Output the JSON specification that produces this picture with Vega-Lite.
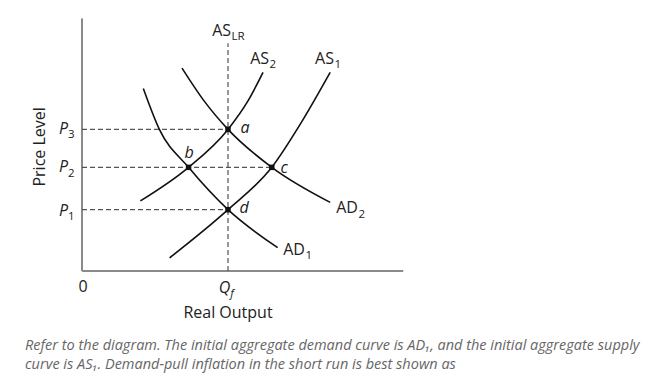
{
  "$schema": "https://vega.github.io/schema/vega-lite/v6.json",
  "width": 653,
  "height": 389,
  "autosize": {"type": "fit", "contains": "padding"},
  "padding": 0,
  "background": "white",
  "config": {"view": {"stroke": null}, "text": {"font": "Open Sans"}},
  "datasets": {
    "curves": [
      {"curve": "AD1", "x": 42, "y": 125}, {"curve": "AD1", "x": 53, "y": 97}, {"curve": "AD1", "x": 73, "y": 71}, {"curve": "AD1", "x": 100, "y": 42}, {"curve": "AD1", "x": 134, "y": 16},
      {"curve": "AD2", "x": 68.5, "y": 139}, {"curve": "AD2", "x": 84, "y": 116}, {"curve": "AD2", "x": 100, "y": 97}, {"curve": "AD2", "x": 130, "y": 71}, {"curve": "AD2", "x": 170, "y": 47},
      {"curve": "AS2", "x": 40, "y": 48}, {"curve": "AS2", "x": 73, "y": 71}, {"curve": "AS2", "x": 100, "y": 97}, {"curve": "AS2", "x": 114, "y": 117}, {"curve": "AS2", "x": 124, "y": 136},
      {"curve": "AS1", "x": 60, "y": 9}, {"curve": "AS1", "x": 100, "y": 42}, {"curve": "AS1", "x": 130, "y": 71}, {"curve": "AS1", "x": 151, "y": 103}, {"curve": "AS1", "x": 170, "y": 136}
    ],
    "guides": [
      {"x": 0, "y": 97, "x2": 100, "y2": 97},
      {"x": 0, "y": 71, "x2": 130, "y2": 71},
      {"x": 0, "y": 42, "x2": 100, "y2": 42},
      {"x": 100, "y": 0, "x2": 100, "y2": 156}
    ],
    "axes": [
      {"x": 0, "y": 0, "x2": 0, "y2": 173},
      {"x": 0, "y": 0, "x2": 220, "y2": 0}
    ],
    "points": [
      {"name": "a", "x": 100, "y": 97},
      {"name": "b", "x": 73, "y": 71},
      {"name": "c", "x": 130, "y": 71},
      {"name": "d", "x": 100, "y": 42}
    ],
    "pointLabels": [
      {"t": "a", "x": 111.6, "y": 98},
      {"t": "b", "x": 73.3, "y": 80.5},
      {"t": "c", "x": 138.4, "y": 70.5},
      {"t": "d", "x": 111, "y": 43}
    ],
    "curveLabels": [
      {"base": "AS", "sub": "LR", "x": 102.1, "y": 161},
      {"base": "AS", "sub": "2", "x": 128.1, "y": 141.8},
      {"base": "AS", "sub": "1", "x": 172.6, "y": 141.8},
      {"base": "AD", "sub": "2", "x": 189, "y": 39.7},
      {"base": "AD", "sub": "1", "x": 152.7, "y": 11}
    ],
    "italicLabels": [
      {"base": "P", "sub": "3", "x": -9.6, "y": 94},
      {"base": "P", "sub": "2", "x": -9.6, "y": 67.5},
      {"base": "P", "sub": "1", "x": -9.6, "y": 38}
    ],
    "qLabel": [
      {"base": "Q", "sub": "f", "x": 101.5, "y": -15}
    ],
    "plainText": [
      {"t": "0", "x": 0.7, "y": -11},
      {"t": "Real Output", "x": 100, "y": -28.8}
    ],
    "yTitle": [
      {"t": "Price Level", "x": -28.8, "y": 85}
    ],
    "caption": [
      {"t": "Refer to the diagram. The initial aggregate demand curve is AD₁, and the initial aggregate supply", "x": -39, "y": -51.4},
      {"t": "curve is AS₁. Demand-pull inflation in the short run is best shown as", "x": -39, "y": -64.4}
    ]
  },
  "encoding": {
    "x": {"field": "x", "type": "quantitative", "scale": {"domain": [-56.16, 391.1], "nice": false, "zero": false}, "axis": null},
    "y": {"field": "y", "type": "quantitative", "scale": {"domain": [-80.82, 185.62], "nice": false, "zero": false}, "axis": null}
  },
  "layer": [
    {
      "data": {"name": "axes"},
      "mark": {"type": "rule", "color": "#8a8a8a", "strokeWidth": 2},
      "encoding": {"x2": {"field": "x2"}, "y2": {"field": "y2"}}
    },
    {
      "data": {"name": "guides"},
      "mark": {"type": "rule", "color": "#555555", "strokeWidth": 1.2, "strokeDash": [5, 3]},
      "encoding": {"x2": {"field": "x2"}, "y2": {"field": "y2"}}
    },
    {
      "data": {"name": "curves"},
      "mark": {"type": "line", "color": "#111111", "strokeWidth": 1.6, "interpolate": "monotone"},
      "encoding": {"detail": {"field": "curve"}, "order": {"field": "x", "type": "quantitative"}}
    },
    {
      "data": {"name": "points"},
      "mark": {"type": "point", "shape": "square", "filled": true, "color": "#111111", "size": 30, "opacity": 1}
    },
    {
      "data": {"name": "pointLabels"},
      "mark": {"type": "text", "fontSize": 16, "fontStyle": "italic", "color": "#222222", "align": "center", "baseline": "middle"},
      "encoding": {"text": {"field": "t"}}
    },
    {
      "data": {"name": "curveLabels"},
      "mark": {"type": "text", "fontSize": 16, "color": "#222222", "align": "right", "baseline": "alphabetic"},
      "encoding": {"text": {"field": "base"}}
    },
    {
      "data": {"name": "curveLabels"},
      "mark": {"type": "text", "fontSize": 11.5, "color": "#222222", "align": "left", "baseline": "alphabetic", "dx": 0.5, "dy": 4.5},
      "encoding": {"text": {"field": "sub"}}
    },
    {
      "data": {"name": "italicLabels"},
      "mark": {"type": "text", "fontSize": 16, "fontStyle": "italic", "color": "#222222", "align": "right", "baseline": "alphabetic"},
      "encoding": {"text": {"field": "base"}}
    },
    {
      "data": {"name": "italicLabels"},
      "mark": {"type": "text", "fontSize": 11.5, "color": "#222222", "align": "left", "baseline": "alphabetic", "dx": 0, "dy": 4.5},
      "encoding": {"text": {"field": "sub"}}
    },
    {
      "data": {"name": "qLabel"},
      "mark": {"type": "text", "fontSize": 16, "fontStyle": "italic", "color": "#222222", "align": "right", "baseline": "alphabetic"},
      "encoding": {"text": {"field": "base"}}
    },
    {
      "data": {"name": "qLabel"},
      "mark": {"type": "text", "fontSize": 11.5, "fontStyle": "italic", "color": "#222222", "align": "left", "baseline": "alphabetic", "dx": 0, "dy": 4.5},
      "encoding": {"text": {"field": "sub"}}
    },
    {
      "data": {"name": "plainText"},
      "mark": {"type": "text", "fontSize": 16, "color": "#222222", "align": "center", "baseline": "middle"},
      "encoding": {"text": {"field": "t"}}
    },
    {
      "data": {"name": "yTitle"},
      "mark": {"type": "text", "fontSize": 16, "color": "#222222", "align": "center", "baseline": "middle", "angle": 270},
      "encoding": {"text": {"field": "t"}}
    },
    {
      "data": {"name": "caption"},
      "mark": {"type": "text", "fontSize": 14.5, "fontStyle": "italic", "color": "#666666", "align": "left", "baseline": "middle"},
      "encoding": {"text": {"field": "t"}}
    }
  ]
}
